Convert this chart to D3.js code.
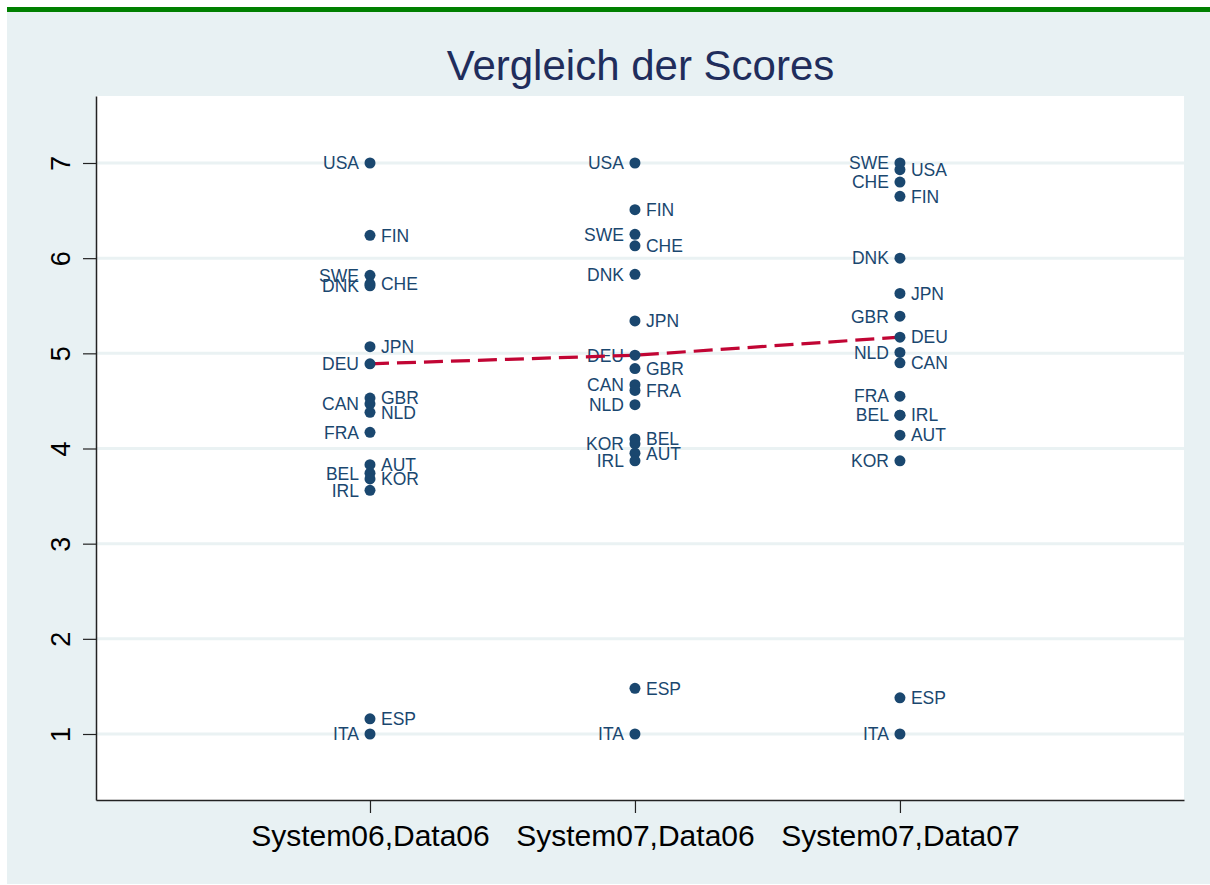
<!DOCTYPE html>
<html lang="de">
<head>
  <meta charset="utf-8" />
  <title>Vergleich der Scores</title>
  <script src="https://d3js.org/d3.v7.min.js"></script>
  <style>
    body { margin: 0; background: #ffffff; }
    svg text { font-family: "Liberation Sans", Arial, Helvetica, sans-serif; }
  </style>
</head>
<body>
<div id="chart"></div>
<script>
// categories on the x axis
var categories = ["System06,Data06", "System07,Data06", "System07,Data07"];

// countries, same order in every score list
var countries = ["USA", "FIN", "SWE", "CHE", "DNK", "JPN", "DEU", "GBR", "CAN",
                 "NLD", "FRA", "BEL", "AUT", "KOR", "IRL", "ESP", "ITA"];

// scores
var scores0606 = [7.00, 6.24, 5.82, 5.73, 5.71, 5.07, 4.89, 4.53, 4.47,
                  4.38, 4.17, 3.74, 3.83, 3.68, 3.56, 1.16, 1.00];
var scores0706 = [7.00, 6.51, 6.25, 6.13, 5.83, 5.34, 4.98, 4.84, 4.67,
                  4.46, 4.61, 4.10, 3.95, 4.05, 3.87, 1.48, 1.00];
var scores0707 = [6.93, 6.65, 7.00, 6.80, 6.00, 5.63, 5.17, 5.39, 4.90,
                  5.01, 4.55, 4.35, 4.14, 3.87, 4.35, 1.38, 1.00];

// which countries get their label on the left of the marker (9 o'clock)
var leftLabels0606 = ["USA", "SWE", "DNK", "DEU", "CAN", "FRA", "BEL", "IRL", "ITA"];
var leftLabels0706 = ["USA", "SWE", "DNK", "DEU", "CAN", "NLD", "KOR", "IRL", "ITA"];
var leftLabels0707 = ["SWE", "CHE", "DNK", "GBR", "NLD", "FRA", "BEL", "KOR", "ITA"];

var yTicks = [1, 2, 3, 4, 5, 6, 7];
var lineCountry = "DEU";

var series = [scores0606, scores0706, scores0707];
var leftSets = [leftLabels0606, leftLabels0706, leftLabels0707];

var points = [];
series.forEach(function(vals, i) {
  vals.forEach(function(v, j) {
    points.push({cat: i + 1, country: countries[j], value: v,
                 left: leftSets[i].indexOf(countries[j]) >= 0});
  });
});

var W = 1210, H = 885;
var plot = {left: 96, right: 1184, top: 96, bottom: 800};
var navy = "#1a476f";

var svg = d3.select("#chart").append("svg")
  .attr("width", W)
  .attr("height", H);

// outer background + green band on top
svg.append("rect").attr("x", 7).attr("y", 12).attr("width", W - 7).attr("height", 872)
  .attr("fill", "#e8f1f3");
svg.append("rect").attr("x", 7).attr("y", 7).attr("width", W - 7).attr("height", 5)
  .attr("fill", "#008000");

// plot region
svg.append("rect")
  .attr("x", plot.left).attr("y", plot.top)
  .attr("width", plot.right - plot.left).attr("height", plot.bottom - plot.top)
  .attr("fill", "#ffffff");

var x = d3.scaleLinear().domain([-0.034, 4.072]).range([plot.left, plot.right]);
var y = d3.scaleLinear().domain([0.3065, 7.704]).range([plot.bottom, plot.top]);

// grid
svg.append("g").selectAll("line")
  .data(yTicks)
  .enter().append("line")
  .attr("x1", plot.left).attr("x2", plot.right)
  .attr("y1", function(d) { return y(d); })
  .attr("y2", function(d) { return y(d); })
  .attr("stroke", "#eaf2f3")
  .attr("stroke-width", 3);

// y axis
var yAxis = svg.append("g")
  .attr("transform", "translate(" + plot.left + ",0)")
  .call(d3.axisLeft(y).tickValues(yTicks).tickSize(13).tickSizeOuter(0).tickFormat(d3.format("d")));
yAxis.select(".domain").attr("stroke", "#222").attr("stroke-width", 1.5);
yAxis.selectAll(".tick line").attr("stroke", "#222").attr("stroke-width", 1.2);
yAxis.selectAll(".tick text")
  .attr("x", null).attr("dy", null)
  .attr("transform", "translate(-26,0) rotate(-90)")
  .attr("text-anchor", "middle")
  .attr("fill", "#000")
  .style("font-size", "27px");

// x axis
var xAxis = svg.append("g")
  .attr("transform", "translate(0," + plot.bottom + ")")
  .call(d3.axisBottom(x).tickValues([1, 2, 3]).tickSize(13).tickSizeOuter(0)
    .tickFormat(function(d) { return categories[d - 1]; }));
xAxis.select(".domain").attr("stroke", "#222").attr("stroke-width", 1.5);
xAxis.selectAll(".tick line").attr("stroke", "#222").attr("stroke-width", 1.2);
xAxis.selectAll(".tick text")
  .attr("y", 46).attr("dy", null)
  .attr("fill", "#000")
  .style("font-size", "30px");

// marker labels
svg.append("g").selectAll("text")
  .data(points)
  .enter().append("text")
  .attr("x", function(d) { return x(d.cat) + (d.left ? -11 : 11); })
  .attr("y", function(d) { return y(d.value); })
  .attr("dy", "0.36em")
  .attr("text-anchor", function(d) { return d.left ? "end" : "start"; })
  .attr("fill", navy)
  .style("font-size", "17.5px")
  .text(function(d) { return d.country; });

// connecting dashed line for one country
var lineData = series.map(function(vals, i) {
  return {cat: i + 1, value: vals[countries.indexOf(lineCountry)]};
});
svg.append("path")
  .datum(lineData)
  .attr("fill", "none")
  .attr("stroke", "#c10534")
  .attr("stroke-width", 3.2)
  .attr("stroke-dasharray", "19,8")
  .attr("d", d3.line()
    .x(function(d) { return x(d.cat); })
    .y(function(d) { return y(d.value); }));

// markers
svg.append("g").selectAll("circle")
  .data(points)
  .enter().append("circle")
  .attr("cx", function(d) { return x(d.cat); })
  .attr("cy", function(d) { return y(d.value); })
  .attr("r", 5.5)
  .attr("fill", navy);

// title
svg.append("text")
  .attr("x", (plot.left + plot.right) / 2 + 0.5)
  .attr("y", 80)
  .attr("text-anchor", "middle")
  .attr("fill", "#1f2d5c")
  .style("font-size", "42px")
  .text("Vergleich der Scores");
</script>
</body>
</html>
